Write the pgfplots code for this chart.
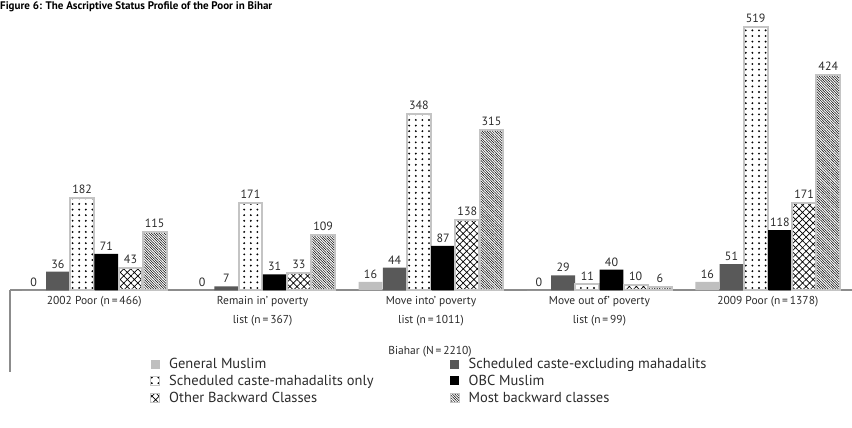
\documentclass[border=0pt]{standalone}
\usepackage{pgfplots}
\pgfplotsset{compat=1.18}
\usepackage{fontspec}
\setmainfont{PT Sans}
\usetikzlibrary{patterns,patterns.meta}

\pgfdeclarepatternformonly{tdots}{\pgfqpoint{-1.2pt}{-1.2pt}}{\pgfqpoint{1.2pt}{1.2pt}}{\pgfqpoint{6.6pt}{5.6pt}}{\pgfpathcircle{\pgfqpoint{0pt}{0pt}}{1.05pt}\pgfusepath{fill}}

\definecolor{lg}{HTML}{BFBFBF}
\definecolor{dg}{HTML}{595959}
\definecolor{bd}{HTML}{C4C4C4}
\definecolor{tx}{HTML}{2B2B2B}
\definecolor{ax}{HTML}{8C8C8C}

\begin{document}
\begin{tikzpicture}[x=1pt,y=1pt]
\begin{axis}[
  at={(10pt,-290pt)}, anchor=south west,
  width=842pt, height=284pt, scale only axis,
  xmin=-0.5, xmax=4.5, ymin=0, ymax=560,
  ybar=0.4pt, bar width=23.8pt,
  axis x line*=bottom, axis y line=none,
  x axis line style={-, draw=ax, line width=1.5pt},
  xtick={0,1,2,3,4},
  xticklabels={{2002 Poor (n\,=\,466)},{Remain in’ poverty\\list (n\,=\,367)},{Move into’ poverty\\list (n\,=\,1011)},{Move out of’ poverty\\list (n\,=\,99)},{2009 Poor (n\,=\,1378)}},
  major tick length=0pt,
  xticklabel style={align=center, font=\fontsize{11.5}{19}\selectfont, text=tx, yshift=-3pt},
  ytick=\empty,
  nodes near coords,
  nodes near coords style={font=\fontsize{12}{13}\selectfont, text=tx},
  /pgf/number format/assume math mode=true,
  clip=false,
  legend columns=2,
  legend cell align=left,
  area legend,
  legend image code/.code={\path[#1, line width=0.6pt] (0pt,-4.5pt) rectangle (9pt,4.5pt);},
  legend style={at={(axis description cs:0.163,-0.228)}, anchor=north west, draw=none, fill=none,
    font=\fontsize{14.5}{15}\selectfont, text=tx, row sep=2.6pt,
    nodes={inner sep=1.2pt},
    /tikz/every odd column/.append style={column sep=8pt},
    /tikz/every even column/.append style={column sep=75pt}},
]
\addplot[fill=lg, draw=none] coordinates {(0,0) (1,0) (2,16) (3,0) (4,16)};
\addplot[fill=dg, draw=none] coordinates {(0,36) (1,7) (2,44) (3,29) (4,51)};
\addplot[draw=bd, line width=2pt, pattern=tdots, pattern color=black] coordinates {(0,182) (1,171) (2,348) (3,11) (4,519)};
\addplot[fill=black, draw=none] coordinates {(0,71) (1,31) (2,87) (3,40) (4,118)};
\addplot[draw=bd, line width=2pt, pattern={Hatch[angle=45,distance=5pt,line width=0.7pt]}, pattern color=black] coordinates {(0,43) (1,33) (2,138) (3,10) (4,171)};
\addplot[draw=bd, line width=2pt, pattern={Lines[angle=-45,distance=1.8pt,line width=0.5pt]}, pattern color=black] coordinates {(0,115) (1,109) (2,315) (3,6) (4,424)};
\legend{General Muslim, Scheduled caste-excluding mahadalits, Scheduled caste-mahadalits only, OBC Muslim, Other Backward Classes, Most backward classes}
\end{axis}
\draw[ax, line width=1.5pt] (10pt,-290pt) -- (10pt,-372pt);
\node[font=\fontsize{11.5}{13}\selectfont, text=tx] at (430pt,-352pt) {Biahar (N\,=\,2210)};
\node[anchor=base west, inner sep=0pt, font=\bfseries\fontsize{11}{12}\selectfont] at (0pt,-10pt) {Figure 6: The Ascriptive Status Profile of the Poor in Bihar};
\pgfresetboundingbox
\useasboundingbox (0pt,0pt) rectangle (852pt,-428pt);
\end{tikzpicture}
\end{document}
